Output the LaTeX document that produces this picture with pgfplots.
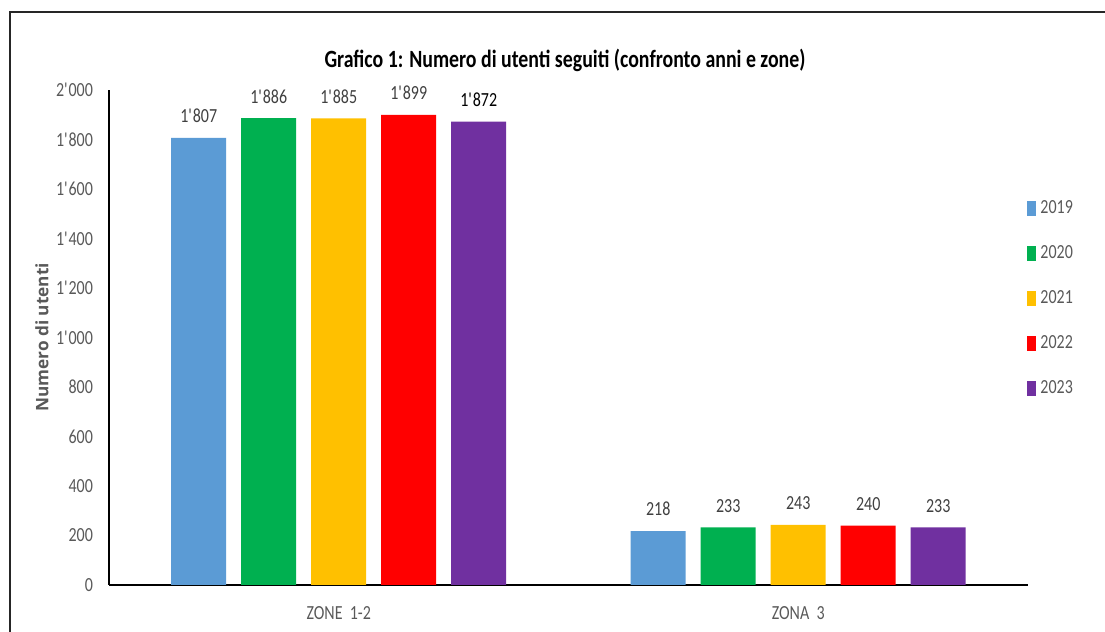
\documentclass[border=0pt]{standalone}
\usepackage{pgfplots}
\pgfplotsset{compat=1.18}
\usepackage{fontspec}
\setmainfont{Carlito}[FakeStretch=0.8]
\newfontfamily\labelfont{Open Sans}
\definecolor{c19}{HTML}{5B9BD5}
\definecolor{c20}{HTML}{00B050}
\definecolor{c21}{HTML}{FFC000}
\definecolor{c22}{HTML}{FF0000}
\definecolor{c23}{HTML}{7030A0}
\definecolor{txt}{HTML}{595959}
\definecolor{lbl}{HTML}{404040}
\pgfplotsset{sq/.style={legend image code/.code={\fill[##1] (0pt,-3.8pt) rectangle (4.5pt,3.8pt);}}}
\begin{document}
\begin{tikzpicture}
\path[use as bounding box] (0,0) rectangle (552.5pt,316pt);
\draw[line width=0.8pt, black!85] (5pt,-2pt) -- (5pt,310pt) -- (556pt,310pt);
\node[font=\bfseries\fontsize{12.4}{14}\selectfont] at (282.5pt,286pt)
  {Grafico 1: Numero di utenti seguiti (confronto anni e zone)};
\begin{axis}[
  at={(54.5pt,23.5pt)}, anchor=south west,
  scale only axis, width=459.5pt, height=247.5pt,
  ybar=7.5pt, bar width=27.5pt,
  xmin=-0.5, xmax=1.5, ymin=0, ymax=2000,
  xtick={0,1}, xticklabels={ZONE\ \ 1-2, ZONA\ \ 3},
  ytick={0,200,...,2000},
  scaled y ticks=false,
  axis x line*=bottom, axis y line*=left,
  x axis line style={line width=1.1pt, -},
  y axis line style={line width=0.6pt, -},
  major tick length=0pt,
  /pgf/number format/assume math mode=true,
  /pgf/number format/1000 sep={\textquotesingle},
  ticklabel style={font=\fontsize{10}{12}\selectfont, text=txt},
  yticklabel style={xshift=-4.5pt},
  xticklabel style={yshift=-7pt},
  ylabel={Numero di utenti},
  ylabel style={at={(axis description cs:-0.073,0.5)}, anchor=center,
    font=\labelfont\bfseries\fontsize{8.6}{10}\selectfont, text=txt},
  nodes near coords,
  every node near coord/.append style={font=\fontsize{10}{12}\selectfont, text=lbl, yshift=4pt},
  legend style={at={(0.999,0.785)}, anchor=north west, draw=none, fill=none,
    inner sep=0pt, row sep=10.5pt, font=\fontsize{10}{12}\selectfont, text=txt,
    cells={anchor=west}},
]
\addplot[fill=c19, draw=none, sq] coordinates {(0,1807) (1,218)};
\addplot[fill=c20, draw=none, sq] coordinates {(0,1886) (1,233)};
\addplot[fill=c21, draw=none, sq] coordinates {(0,1885) (1,243)};
\addplot[fill=c22, draw=none, sq] coordinates {(0,1899) (1,240)};
\addplot[fill=c23, draw=none, sq, point meta=explicit symbolic]
  coordinates {(0,1872) [{\color{black}1\textquotesingle 872}] (1,233) [233]};
\legend{2019,2020,2021,2022,2023}
\end{axis}
\end{tikzpicture}
\end{document}
